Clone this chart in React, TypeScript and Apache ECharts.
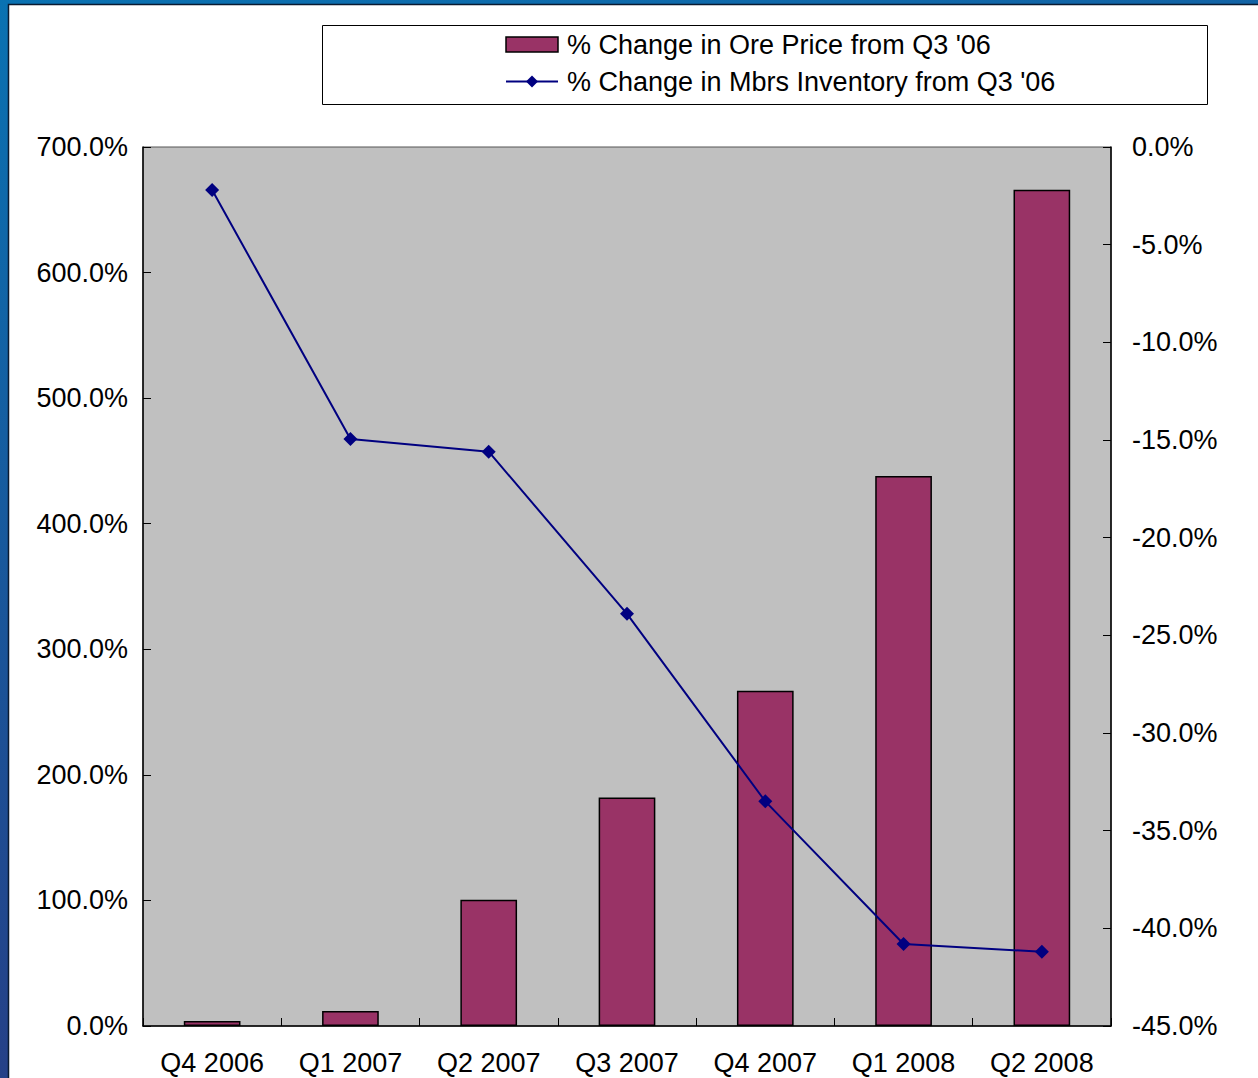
import React, { useEffect, useRef } from "react";
import * as echarts from "echarts";

const categories = ["Q4 2006", "Q1 2007", "Q2 2007", "Q3 2007", "Q4 2007", "Q1 2008", "Q2 2008"];
const orePriceChange = [4, 12, 100.5, 182, 267, 438, 666];
const inventoryChange = [-2.2, -14.95, -15.6, -23.9, -33.5, -40.8, -41.2];
const barName = "% Change in Ore Price from Q3 '06";
const lineName = "% Change in Mbrs Inventory from Q3 '06";

const FONT = "'Liberation Sans', Arial, sans-serif";

export default function App() {
  const ref = useRef<HTMLDivElement>(null);
  useEffect(() => {
    if (!ref.current) return;
    const chart = echarts.init(ref.current, null, { renderer: "svg" });
    chart.setOption({
      animation: false,
      backgroundColor: "#ffffff",
      graphic: [
        {
          type: "rect",
          z: -10,
          silent: true,
          shape: { x: 0, y: 0, width: 1258, height: 1078 },
          style: {
            fill: new echarts.graphic.LinearGradient(0, 0, 0.3, 1, [
              { offset: 0, color: "#0a72b2" },
              { offset: 1, color: "#283c84" },
            ]),
          },
        },
        {
          type: "rect",
          z: -9,
          silent: true,
          shape: { x: 8.5, y: 4.5, width: 1260, height: 1090 },
          style: { fill: "#ffffff", stroke: "#0a1a30", lineWidth: 1.5 },
        },
        {
          type: "rect",
          z: -8,
          silent: true,
          shape: { x: 322.5, y: 25.5, width: 885, height: 79 },
          style: { fill: "#ffffff", stroke: "#000000", lineWidth: 1 },
        },
      ],
      legend: {
        orient: "vertical",
        left: 500,
        top: 26,
        itemWidth: 52,
        itemHeight: 15,
        itemGap: 10,
        align: "left",
        textStyle: { fontFamily: FONT, fontSize: 27, color: "#000", padding: [0, 0, 0, 4], letterSpacing: -1.9 },
        data: [
          { name: barName, icon: "rect", itemStyle: { color: "#993366", borderColor: "#000", borderWidth: 1.5 } },
          { name: lineName },
        ],
      },
      grid: { left: 143, right: 147, top: 147, bottom: 52, show: true, backgroundColor: "#c0c0c0", borderColor: "#555", borderWidth: 1 },
      xAxis: {
        type: "category",
        data: categories,
        boundaryGap: true,
        axisLine: { lineStyle: { color: "#000", width: 1.5 } },
        axisTick: { show: true, inside: true, length: 8, alignWithLabel: false, lineStyle: { color: "#000" } },
        axisLabel: { fontFamily: FONT, fontSize: 27, color: "#000", margin: 23, letterSpacing: -1.5, interval: 0 },
      },
      yAxis: [
        {
          type: "value",
          min: 0,
          max: 700,
          interval: 100,
          position: "left",
          splitLine: { show: false },
          axisLine: { show: true, lineStyle: { color: "#000", width: 1.5 } },
          axisTick: { show: true, inside: true, length: 8, lineStyle: { color: "#000" } },
          axisLabel: { fontFamily: FONT, fontSize: 27, color: "#000", margin: 15, letterSpacing: -1, formatter: (v: number) => v.toFixed(1) + "%" },
        },
        {
          type: "value",
          min: -45,
          max: 0,
          interval: 5,
          position: "right",
          splitLine: { show: false },
          axisLine: { show: true, lineStyle: { color: "#000", width: 1.5 } },
          axisTick: { show: true, inside: true, length: 8, lineStyle: { color: "#000" } },
          axisLabel: { fontFamily: FONT, fontSize: 27, color: "#000", margin: 21, letterSpacing: -1, formatter: (v: number) => v.toFixed(1) + "%" },
        },
      ],
      series: [
        {
          name: barName,
          type: "bar",
          yAxisIndex: 0,
          data: orePriceChange,
          barWidth: "41%",
          itemStyle: { color: "#993366", borderColor: "#000", borderWidth: 1.5 },
        },
        {
          name: lineName,
          type: "line",
          yAxisIndex: 1,
          data: inventoryChange,
          symbol: "diamond",
          symbolSize: 14,
          color: "#000080",
          lineStyle: { color: "#000080", width: 2 },
          itemStyle: { color: "#000080" },
        },
      ],
    });
    return () => chart.dispose();
  }, []);
  return <div ref={ref} style={{ position: "fixed", left: 0, top: 0, width: 1258, height: 1078 }} />;
}
